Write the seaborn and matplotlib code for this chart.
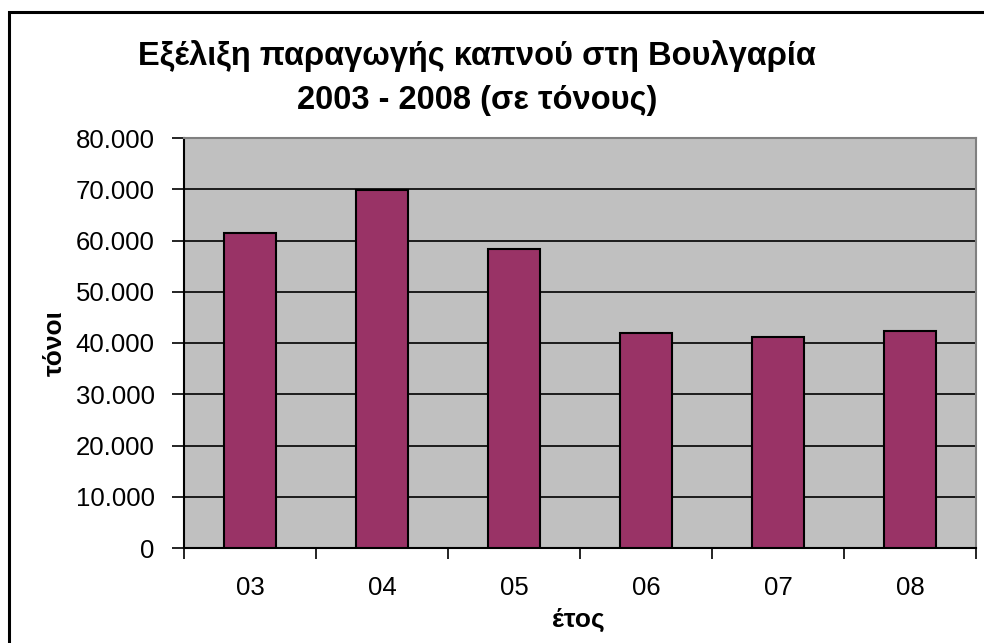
import matplotlib.pyplot as plt
import matplotlib.patches as mpatches
import numpy as np
import pandas as pd
import seaborn as sns
from matplotlib.ticker import FuncFormatter, FixedLocator

years = ['03', '04', '05', '06', '07', '08']
tonnes = [61500, 69900, 58300, 42000, 41200, 42300]

df = pd.DataFrame({'year': years, 'tonnes': tonnes})

sns.set_style('white')
plt.rcParams['font.family'] = ['Liberation Sans', 'DejaVu Sans']
plt.rcParams['text.color'] = 'black'
plt.rcParams['xtick.color'] = 'black'
plt.rcParams['ytick.color'] = 'black'

fig = plt.figure(figsize=(9.84, 6.43), dpi=100)
ax = fig.add_axes([184 / 984, 1 - 548 / 643, (976 - 184) / 984, (548 - 138) / 643])

sns.barplot(data=df, x='year', y='tonnes', hue='year', palette=['#993366'] * 6,
            legend=False, width=0.4, edgecolor='black', linewidth=1.5,
            saturation=1, ax=ax, zorder=3)

ax.set_facecolor('#c0c0c0')
ax.set_xlim(-0.5, 5.5)
ax.set_ylim(0, 80000)
ax.set_yticks(np.arange(0, 80001, 10000))
ax.yaxis.set_major_formatter(FuncFormatter(lambda v, p: f'{v:,.0f}'.replace(',', '.')))
ax.grid(axis='y', color='black', linewidth=1.2, zorder=1)
ax.set_axisbelow(True)

ax.xaxis.set_minor_locator(FixedLocator(np.arange(-0.5, 6, 1)))
ax.tick_params(axis='x', which='major', length=0, pad=20, labelsize=18.5, labelcolor='black')
ax.tick_params(axis='x', which='minor', length=8, width=1.2, color='black', direction='out', bottom=True)
ax.tick_params(axis='y', length=9, width=1.2, color='black', direction='out', left=True, pad=12,
               labelsize=18.5, labelcolor='black')

for side in ['top', 'right']:
    ax.spines[side].set_color('#808080')
    ax.spines[side].set_linewidth(1.5)
for side in ['left', 'bottom']:
    ax.spines[side].set_color('black')
    ax.spines[side].set_linewidth(1.5)

ax.set_xlabel('')
ax.set_ylabel('')
fig.text(578 / 984, 1 - 620 / 643, 'έτος', ha='center', va='center', fontsize=19, fontweight='bold')
fig.text(55 / 984, 1 - 343 / 643, 'τόνοι', ha='center', va='center', rotation=90, fontsize=19, fontweight='bold')

fig.text(477 / 984, 1 - 56 / 643, 'Εξέλιξη παραγωγής καπνού στη Βουλγαρία',
         ha='center', va='center', fontsize=23.5, fontweight='bold')
fig.text(477 / 984, 1 - 100 / 643, '2003 - 2008 (σε τόνους)',
         ha='center', va='center', fontsize=23.5, fontweight='bold')

fig.patches.append(mpatches.Rectangle((9 / 984, -0.05), 1.1, 1.05 - 12 / 643,
                                      transform=fig.transFigure, fill=False,
                                      edgecolor='black', linewidth=2.2))

fig.savefig('out.png', dpi=100)
